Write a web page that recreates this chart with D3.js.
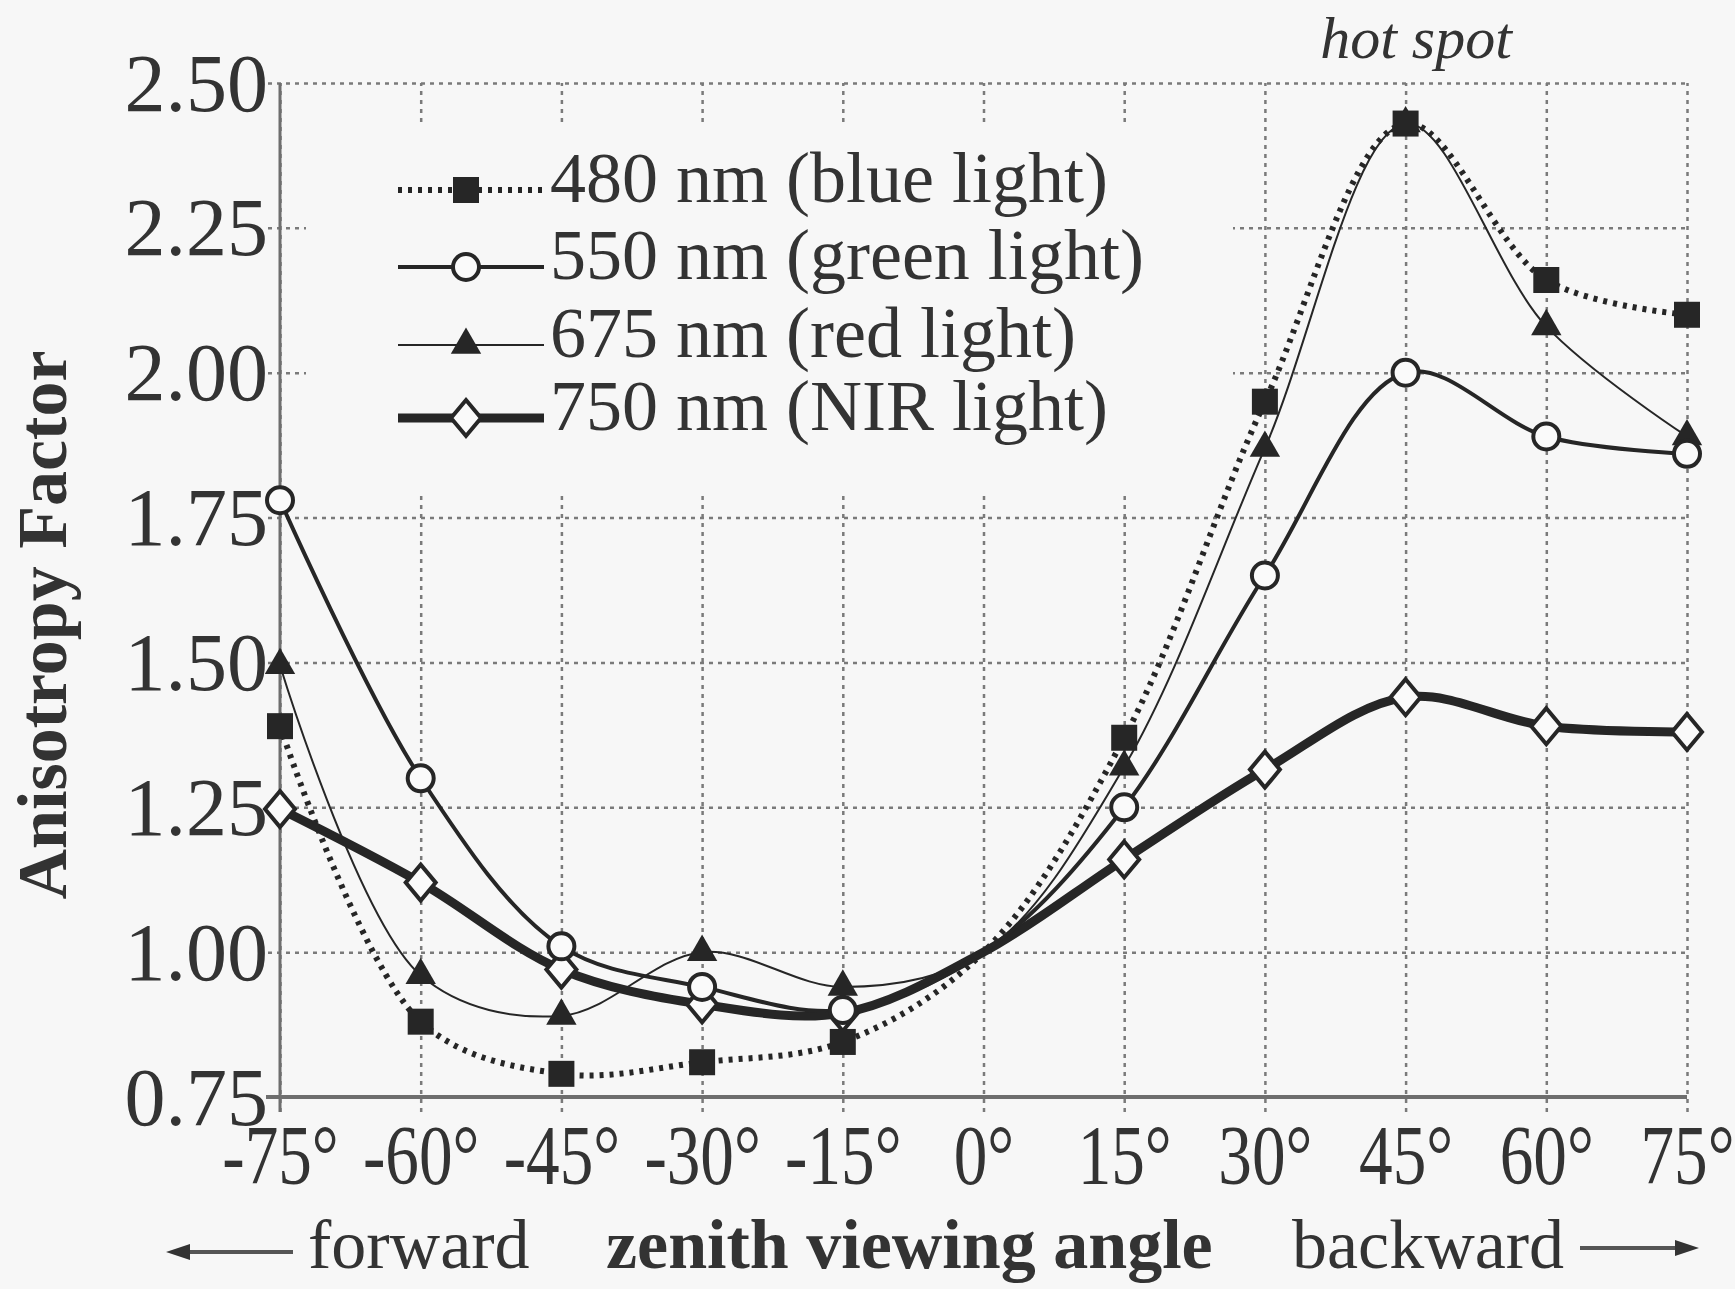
<!DOCTYPE html>
<html><head><meta charset="utf-8">
<script src="https://cdn.jsdelivr.net/npm/d3@7/dist/d3.min.js"></script>
<style>
html,body{margin:0;padding:0;background:#f7f7f7;}
svg{display:block;}
text{font-family:"Liberation Serif","Times New Roman",serif;fill:#333;}
</style></head>
<body>
<svg id="chart" width="1735" height="1289"></svg>
<script>
// ---- data ----
const angles = [-75, -60, -45, -30, -15, 0, 15, 30, 45, 60, 75];
const xTickLabels = ["-75°","-60°","-45°","-30°","-15°","0°","15°","30°","45°","60°","75°"];
const yTicks = [0.75, 1.00, 1.25, 1.50, 1.75, 2.00, 2.25, 2.50];
const yTickLabels = ["0.75","1.00","1.25","1.50","1.75","2.00","2.25","2.50"];
const blue480  = [1.39, 0.88, 0.79, 0.81, 0.845, 1.00, 1.37, 1.95, 2.43, 2.16, 2.10];
const green550 = [1.78, 1.30, 1.01, 0.94, 0.90, 1.00, 1.25, 1.65, 2.00, 1.89, 1.86];
const red675   = [1.495, 0.96, 0.89, 1.00, 0.94, 1.00, 1.32, 1.87, 2.43, 2.08, 1.89];
const nir750   = [1.247, 1.12, 0.97, 0.91, 0.895, 1.00, 1.16, 1.315, 1.44, 1.39, 1.38];
const seriesNames = ["480 nm (blue light)","550 nm (green light)","675 nm (red light)","750 nm (NIR light)"];
const markerless = [0];

const svg = d3.select("#chart");
const x = d3.scaleLinear().domain([-75, 75]).range([280, 1687]);
const y = d3.scaleLinear().domain([0.75, 2.5]).range([1097, 83]);
const ink = "#262626";
const grid = "#7a7a7a";

// vertical gridlines (axis with long ticks), extend below the axis
const xg = svg.append("g").attr("transform", "translate(0,1112)")
  .call(d3.axisTop(x).tickValues(angles).tickSize(1112 - 83).tickFormat(""));
xg.select(".domain").remove();
xg.selectAll("line").attr("stroke", grid).attr("stroke-width", 2.5).attr("stroke-dasharray", "4 5");

// horizontal gridlines
const yg = svg.append("g").attr("transform", "translate(268,0)")
  .call(d3.axisRight(y).tickValues(yTicks).tickSize(1687 - 268).tickFormat(""));
yg.select(".domain").remove();
yg.selectAll("line").attr("stroke", grid).attr("stroke-width", 2.5).attr("stroke-dasharray", "4 5");

// legend background hides gridlines
svg.append("rect").attr("x", 306).attr("y", 125).attr("width", 1233 - 306).attr("height", 495 - 125)
  .attr("fill", "#f7f7f7");

// solid axes
svg.append("line").attr("x1", x(-75)).attr("x2", x(-75)).attr("y1", y(2.5)).attr("y2", 1112)
  .attr("stroke", "#6e6e6e").attr("stroke-width", 3);
svg.append("line").attr("x1", 266).attr("x2", x(75)).attr("y1", y(0.75)).attr("y2", y(0.75))
  .attr("stroke", "#6e6e6e").attr("stroke-width", 4);

// tick labels
const yl = svg.append("g").attr("transform", "translate(268,0)")
  .call(d3.axisLeft(y).tickValues(yTicks).tickSize(0).tickPadding(0)
    .tickFormat((d, i) => yTickLabels[i]));
yl.select(".domain").remove();
yl.selectAll("text").attr("font-family", "Liberation Serif").attr("font-size", 82)
  .attr("fill", "#333").attr("dy", "0.33em");

const xl = svg.append("g").attr("transform", "translate(0,1100)")
  .call(d3.axisBottom(x).tickValues(angles).tickSize(0).tickPadding(0)
    .tickFormat((d, i) => xTickLabels[i]));
xl.select(".domain").remove();
xl.selectAll("text").attr("font-family", "Liberation Serif").attr("font-size", 84)
  .attr("fill", "#333").attr("y", 84).attr("dy", 0).attr("transform", "scale(0.8,1)");

// series
const line = d3.line().x((d, i) => x(angles[i])).y(d => y(d)).curve(d3.curveCatmullRom.alpha(0.5));
const series = [
  {vals: blue480, width: 6, dash: "4 6", marker: "square"},
  {vals: green550, width: 4, dash: null, marker: "circle"},
  {vals: red675, width: 2, dash: null, marker: "triangle"},
  {vals: nir750, width: 9, dash: null, marker: "diamond"}
];
const drawOrder = [3, 2, 1, 0];
const gl = svg.append("g");
drawOrder.forEach(k => {
  const s = series[k];
  gl.append("path").attr("d", line(s.vals)).attr("fill", "none").attr("stroke", ink)
    .attr("stroke-width", s.width).attr("stroke-dasharray", s.dash).attr("stroke-linejoin", "round");
});
function marker(g, type, cx, cy) {
  if (type === "square") {
    g.append("rect").attr("x", cx - 13).attr("y", cy - 13).attr("width", 26).attr("height", 26).attr("fill", ink);
  } else if (type === "circle") {
    g.append("circle").attr("cx", cx).attr("cy", cy).attr("r", 13).attr("fill", "#fafafa")
      .attr("stroke", ink).attr("stroke-width", 4);
  } else if (type === "triangle") {
    g.append("path").attr("d", d3.symbol(d3.symbolTriangle, 400)()).attr("transform", `translate(${cx},${cy})`)
      .attr("fill", ink);
  } else {
    g.append("path").attr("d", `M0,-18L15,0L0,18L-15,0Z`).attr("transform", `translate(${cx},${cy})`)
      .attr("fill", "#fafafa").attr("stroke", ink).attr("stroke-width", 4);
  }
}
drawOrder.forEach(k => {
  const s = series[k];
  s.vals.forEach((v, i) => {
    if (markerless.includes(angles[i])) return;
    marker(gl, s.marker, x(angles[i]), y(v));
  });
});

// legend
const legY = [190, 267, 345, 418];
const lg = svg.append("g");
series.forEach((s, k) => {
  lg.append("line").attr("x1", 398).attr("x2", 544).attr("y1", legY[k]).attr("y2", legY[k])
    .attr("stroke", ink).attr("stroke-width", s.width).attr("stroke-dasharray", s.dash);
  marker(lg, s.marker, 466, legY[k]);
  lg.append("text").attr("x", 550).attr("y", legY[k] + 12).attr("font-size", 72).text(seriesNames[k]);
});

// annotations
svg.append("text").attr("x", 1416).attr("y", 58).attr("text-anchor", "middle")
  .attr("font-family", "Open Sans").attr("font-style", "italic").attr("font-size", 60).attr("fill", "#444")
  .text("hot spot");

svg.append("text").attr("transform", "translate(66,625) rotate(-90)").attr("text-anchor", "middle")
  .attr("font-weight", "bold").attr("font-size", 70).attr("fill", "#333").text("Anisotropy Factor");

svg.append("text").attr("x", 308).attr("y", 1268).attr("font-size", 70).text("forward");
svg.append("text").attr("x", 606).attr("y", 1268).attr("font-size", 70).attr("font-weight", "bold").text("zenith viewing angle");
svg.append("text").attr("x", 1292).attr("y", 1268).attr("font-size", 70).text("backward");

// arrows
const arrowY = 1252;
svg.append("line").attr("x1", 180).attr("x2", 293).attr("y1", arrowY).attr("y2", arrowY).attr("stroke", "#555").attr("stroke-width", 4);
svg.append("path").attr("d", `M166,${arrowY}L190,${arrowY - 8}L190,${arrowY + 8}Z`).attr("fill", "#333");
svg.append("line").attr("x1", 1580).attr("x2", 1685).attr("y1", arrowY - 4).attr("y2", arrowY - 4).attr("stroke", "#555").attr("stroke-width", 4);
svg.append("path").attr("d", `M1699,${arrowY - 4}L1675,${arrowY - 12}L1675,${arrowY + 4}Z`).attr("fill", "#333");
</script>
</body></html>
